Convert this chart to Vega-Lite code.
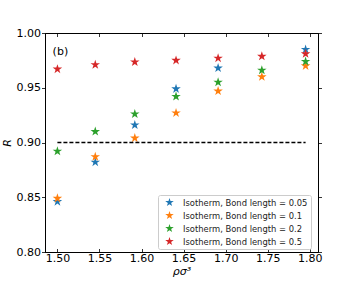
{
  "$schema": "https://vega.github.io/schema/vega-lite/v6.json",
  "width": 273,
  "height": 219,
  "autosize": {"type": "none"},
  "padding": {"left": 45, "top": 33, "right": 36, "bottom": 32},
  "background": "white",
  "config": {
    "font": "DejaVu Sans",
    "view": {"stroke": "black", "strokeWidth": 1},
    "axis": {
      "grid": false,
      "domainColor": "black",
      "domainWidth": 1,
      "tickColor": "black",
      "tickWidth": 0.8,
      "labelFont": "DejaVu Sans",
      "labelFontSize": 11,
      "labelColor": "black",
      "titleFont": "DejaVu Sans",
      "titleFontSize": 11,
      "titleFontWeight": "normal",
      "titleFontStyle": "italic",
      "titleColor": "black"
    }
  },
  "datasets": {
    "pts": [
      {"rho": 1.500, "R": 0.846, "series": "Isotherm, Bond length = 0.05"},
      {"rho": 1.545, "R": 0.882, "series": "Isotherm, Bond length = 0.05"},
      {"rho": 1.592, "R": 0.916, "series": "Isotherm, Bond length = 0.05"},
      {"rho": 1.641, "R": 0.949, "series": "Isotherm, Bond length = 0.05"},
      {"rho": 1.691, "R": 0.968, "series": "Isotherm, Bond length = 0.05"},
      {"rho": 1.795, "R": 0.985, "series": "Isotherm, Bond length = 0.05"},
      {"rho": 1.500, "R": 0.849, "series": "Isotherm, Bond length = 0.1"},
      {"rho": 1.545, "R": 0.887, "series": "Isotherm, Bond length = 0.1"},
      {"rho": 1.592, "R": 0.904, "series": "Isotherm, Bond length = 0.1"},
      {"rho": 1.641, "R": 0.927, "series": "Isotherm, Bond length = 0.1"},
      {"rho": 1.691, "R": 0.947, "series": "Isotherm, Bond length = 0.1"},
      {"rho": 1.743, "R": 0.960, "series": "Isotherm, Bond length = 0.1"},
      {"rho": 1.795, "R": 0.970, "series": "Isotherm, Bond length = 0.1"},
      {"rho": 1.500, "R": 0.892, "series": "Isotherm, Bond length = 0.2"},
      {"rho": 1.545, "R": 0.910, "series": "Isotherm, Bond length = 0.2"},
      {"rho": 1.592, "R": 0.926, "series": "Isotherm, Bond length = 0.2"},
      {"rho": 1.641, "R": 0.942, "series": "Isotherm, Bond length = 0.2"},
      {"rho": 1.691, "R": 0.955, "series": "Isotherm, Bond length = 0.2"},
      {"rho": 1.743, "R": 0.966, "series": "Isotherm, Bond length = 0.2"},
      {"rho": 1.795, "R": 0.974, "series": "Isotherm, Bond length = 0.2"},
      {"rho": 1.500, "R": 0.967, "series": "Isotherm, Bond length = 0.5"},
      {"rho": 1.545, "R": 0.971, "series": "Isotherm, Bond length = 0.5"},
      {"rho": 1.592, "R": 0.9735, "series": "Isotherm, Bond length = 0.5"},
      {"rho": 1.641, "R": 0.975, "series": "Isotherm, Bond length = 0.5"},
      {"rho": 1.691, "R": 0.977, "series": "Isotherm, Bond length = 0.5"},
      {"rho": 1.743, "R": 0.9787, "series": "Isotherm, Bond length = 0.5"},
      {"rho": 1.795, "R": 0.981, "series": "Isotherm, Bond length = 0.5"}
    ],
    "ref": [
      {"rho": 1.500, "R": 0.9},
      {"rho": 1.795, "R": 0.9}
    ],
    "lab": [
      {"rho": 1.4943, "R": 0.983, "text": "(b)"}
    ]
  },
  "layer": [
    {
      "data": {"name": "pts"},
      "mark": {
        "type": "point",
        "filled": true,
        "opacity": 1,
        "size": 100,
        "strokeWidth": 0,
        "shape": "M0,-1L0.2245,-0.309L0.9511,-0.309L0.3633,0.118L0.5878,0.809L0,0.382L-0.5878,0.809L-0.3633,0.118L-0.9511,-0.309L-0.2245,-0.309Z"
      },
      "encoding": {
        "x": {
          "field": "rho", "type": "quantitative",
          "scale": {"domain": [1.48525, 1.80975], "nice": false, "zero": false},
          "axis": {
            "orient": "bottom",
            "title": "ρσ³",
            "values": [1.5, 1.55, 1.6, 1.65, 1.7, 1.75, 1.8],
            "format": ".2f",
            "tickSize": -3.5,
            "labelPadding": 4,
            "titlePadding": 2
          }
        },
        "y": {
          "field": "R", "type": "quantitative",
          "scale": {"domain": [0.8, 1.0], "nice": false, "zero": false},
          "axis": {
            "orient": "left",
            "title": "R",
            "values": [0.8, 0.85, 0.9, 0.95, 1.0],
            "format": ".2f",
            "tickSize": 3.5,
            "labelPadding": 1,
            "titlePadding": 4
          }
        },
        "color": {
          "field": "series", "type": "nominal",
          "scale": {
            "domain": ["Isotherm, Bond length = 0.05", "Isotherm, Bond length = 0.1", "Isotherm, Bond length = 0.2", "Isotherm, Bond length = 0.5"],
            "range": ["#1f77b4", "#ff7f0e", "#2ca02c", "#d62728"]
          },
          "legend": {
            "title": null,
            "orient": "none",
            "legendX": 113,
            "legendY": 162,
            "padding": 3,
            "strokeColor": "#cccccc",
            "fillColor": "white",
            "cornerRadius": 2,
            "symbolType": "M0,-1L0.2245,-0.309L0.9511,-0.309L0.3633,0.118L0.5878,0.809L0,0.382L-0.5878,0.809L-0.3633,0.118L-0.9511,-0.309L-0.2245,-0.309Z",
            "symbolSize": 80,
            "symbolStrokeWidth": 0,
            "symbolOffset": 4,
            "labelFont": "DejaVu Sans",
            "labelFontSize": 8.4,
            "labelColor": "#222222",
            "labelOffset": 9,
            "rowPadding": 4
          }
        }
      }
    },
    {
      "data": {"name": "ref"},
      "mark": {"type": "line", "color": "black", "strokeWidth": 1.3, "strokeDash": [4, 2]},
      "encoding": {
        "x": {
          "field": "rho", "type": "quantitative",
          "scale": {"domain": [1.48525, 1.80975], "nice": false, "zero": false},
          "axis": {
            "orient": "top",
            "title": null,
            "values": [1.5, 1.55, 1.6, 1.65, 1.7, 1.75, 1.8],
            "labels": false,
            "tickSize": -3.5
          }
        },
        "y": {
          "field": "R", "type": "quantitative",
          "scale": {"domain": [0.8, 1.0], "nice": false, "zero": false},
          "axis": {
            "orient": "right",
            "title": null,
            "values": [0.8, 0.85, 0.9, 0.95, 1.0],
            "labels": false,
            "tickSize": 3.5
          }
        }
      }
    },
    {
      "data": {"name": "lab"},
      "mark": {"type": "text", "align": "left", "baseline": "middle", "font": "DejaVu Sans", "fontSize": 11, "color": "black"},
      "encoding": {
        "x": {"field": "rho", "type": "quantitative", "axis": null},
        "y": {"field": "R", "type": "quantitative", "axis": null},
        "text": {"field": "text"}
      }
    }
  ],
  "resolve": {"axis": {"x": "independent", "y": "independent"}}
}
